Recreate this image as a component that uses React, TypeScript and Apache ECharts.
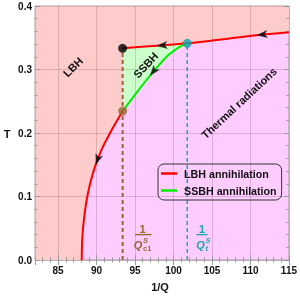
import React, { useEffect, useRef } from "react";
import * as echarts from "echarts";

// LBH annihilation curve, lower branch (1/Q, T)
const lbhLower: [number, number][] = [
  [88.07, 0], [88.1, 0.02], [88.19, 0.042], [88.4, 0.068], [88.71, 0.0945],
  [89.2, 0.122], [89.8, 0.147], [90.7, 0.175], [91.74, 0.1995], [92.5, 0.216], [93.39, 0.2346],
];
// LBH annihilation curve, upper branch
const lbhUpper: [number, number][] = [
  [93.39, 0.3334], [97.8, 0.3375], [101.79, 0.3412], [105, 0.3455], [108, 0.35], [110.8, 0.354], [115, 0.3586],
];
// SSBH annihilation curve
const ssbh: [number, number][] = [
  [93.39, 0.2346], [94.8, 0.257], [96.5, 0.2835], [99.1, 0.32], [100.84, 0.3359], [101.79, 0.3412],
];
const blackPoint: [number, number] = [93.39, 0.3334];
const brownPoint: [number, number] = [93.39, 0.2346];
const cyanPoint: [number, number] = [101.79, 0.3412];
// arrows: x, y, rotation (deg)
const arrows: [number, number, number][] = [
  [110.8, 0.354, 96], [97.8, 0.3375, 94], [96.94, 0.29, 142], [89.9, 0.15, 161],
];
const xMin = 82, xMax = 115, yMin = 0, yMax = 0.4;

const PINK = "#ffcccc", MAGENTA = "#ffccff", LGREEN = "#ccffcc";
const RED = "#ff0000", GREEN = "#00ee00", BROWN = "#996633", CYAN = "#1aa3b3";
const FONT = "Liberation Sans";

export default function App() {
  const ref = useRef<HTMLDivElement>(null);
  useEffect(() => {
    if (!ref.current) return;
    const chart = echarts.init(ref.current, null, { renderer: "svg" });
    const pinkRegion = [[xMin, 0], ...lbhLower, ...lbhUpper, [xMax, yMax], [xMin, yMax]];
    const greenRegion = [...lbhUpper.filter((p) => p[0] <= cyanPoint[0]), ...ssbh.slice().reverse()];
    const regions = [pinkRegion, greenRegion];
    const regionColors = [PINK, LGREEN];
    const tickCol = "#999";
    const gridLine = { show: true, lineStyle: { color: "rgba(90,40,60,0.2)", width: 1 } };
    const mkX = (pos: string, minor: boolean, labels: boolean) => ({
      type: "value", position: pos, min: xMin, max: xMax, z: 2,
      ...(minor ? { interval: 1 } : {}),
      axisLine: { show: false },
      axisTick: { show: true, inside: true, length: minor ? 2.5 : 5, lineStyle: { color: tickCol } },
      axisLabel: labels
        ? { show: true, showMinLabel: false, margin: 5, fontFamily: FONT, fontWeight: "bold", fontSize: 10, color: "#111" }
        : { show: false },
      splitLine: labels ? gridLine : { show: false },
    });
    const mkY = (pos: string, minor: boolean, labels: boolean) => ({
      type: "value", position: pos, min: yMin, max: yMax, interval: minor ? 0.02 : 0.1, z: 2,
      axisLine: { show: false },
      axisTick: { show: true, inside: true, length: minor ? 2.5 : 5, lineStyle: { color: tickCol } },
      axisLabel: labels
        ? { show: true, margin: 3, fontFamily: FONT, fontWeight: "bold", fontSize: 10, color: "#111", formatter: (v: number) => v.toFixed(1) }
        : { show: false },
      splitLine: labels ? gridLine : { show: false },
    });
    const lineSeries = (name: string, data: [number, number][], color: string, smooth: number) => ({
      type: "line", name, data, symbol: "none", z: 4, xAxisIndex: 0, yAxisIndex: 0,
      lineStyle: { color, width: 2 }, itemStyle: { color }, smooth,
    });
    const txt = (text: string, x: number, y: number, font: string, fill: string, rotDeg = 0, align = "center") => ({
      type: "text", x, y, z: 20, rotation: (rotDeg * Math.PI) / 180,
      style: { text, font, fill, align, verticalAlign: "middle" },
    });
    chart.setOption({
      animation: false,
      grid: { left: 35, right: 11, top: 6, bottom: 36, show: true, backgroundColor: MAGENTA, borderColor: "#a0a0a0", borderWidth: 1 },
      xAxis: [mkX("bottom", false, true), mkX("bottom", true, false), mkX("top", false, false), mkX("top", true, false)],
      yAxis: [mkY("left", false, true), mkY("left", true, false), mkY("right", false, false), mkY("right", true, false)],
      legend: {
        left: 158, top: 164, orient: "vertical", padding: [4, 5, 4, 3], itemGap: 6, itemWidth: 16, itemHeight: 2.5,
        icon: "rect",
        borderColor: "#333", borderWidth: 1, borderRadius: 6, selectedMode: false,
        textStyle: { fontFamily: FONT, fontWeight: "bold", fontSize: 10.7, color: "#111", padding: [0, 0, 0, 2] },
        data: ["LBH annihilation", "SSBH annihilation"],
      },
      series: [
        {
          type: "custom", z: 1, silent: true, xAxisIndex: 0, yAxisIndex: 0,
          data: [[0], [1]],
          renderItem: (params: any, api: any) => {
            const idx = params.dataIndex;
            const pts = regions[idx].map((p) => api.coord(p));
            return { type: "polygon", shape: { points: pts }, style: { fill: regionColors[idx] } };
          },
        },
        {
          type: "line", z: 3, symbol: "none", xAxisIndex: 0, yAxisIndex: 0,
          data: [[brownPoint[0], 0], blackPoint], lineStyle: { color: BROWN, width: 2, type: [4, 3] },
        },
        {
          type: "line", z: 3, symbol: "none", xAxisIndex: 0, yAxisIndex: 0,
          data: [[cyanPoint[0], 0], cyanPoint], lineStyle: { color: CYAN, width: 1.5, type: [4, 3] },
        },
        lineSeries("LBH annihilation", lbhLower, RED, 0.3),
        lineSeries("LBH annihilation", lbhUpper, RED, 0.3),
        lineSeries("SSBH annihilation", ssbh, GREEN, 0.2),
        {
          type: "scatter", z: 5, xAxisIndex: 0, yAxisIndex: 0, symbol: "arrow", symbolSize: [6, 11],
          itemStyle: { color: "#000" },
          data: arrows.map((a) => ({ value: [a[0], a[1]], symbolRotate: a[2] })),
        },
        {
          type: "scatter", z: 6, xAxisIndex: 0, yAxisIndex: 0, symbolSize: 9,
          data: [
            { value: blackPoint, itemStyle: { color: "#000" } },
            { value: brownPoint, itemStyle: { color: BROWN } },
            { value: cyanPoint, itemStyle: { color: "#13a0a6" } },
          ],
        },
      ],
      graphic: [
        txt("T", 7, 134, `bold 11px "${FONT}"`, "#111"),
        txt("1/Q", 160, 287, `bold 11px "${FONT}"`, "#111"),
        txt("LBH", 73, 67, `bold 11px "${FONT}"`, "#111", 45),
        txt("SSBH", 145.7, 65, `bold 11px "${FONT}"`, "#111", 47),
        txt("Thermal radiations", 239, 103, `bold 11px "${FONT}"`, "#111", 43),
        // brown fraction
        txt("1", 142.5, 228.5, `bold 11px "${FONT}"`, BROWN),
        { type: "rect", z: 20, shape: { x: 135, y: 234, width: 16.5, height: 1.3 }, style: { fill: BROWN } },
        txt("Q", 138, 245, `bold italic 11px "${FONT}"`, BROWN),
        txt("S", 143, 240.5, `bold italic 7.5px "${FONT}"`, BROWN, 0, "left"),
        txt("c1", 143, 248.5, `bold 7.5px "${FONT}"`, BROWN, 0, "left"),
        // cyan fraction
        txt("1", 202, 228.5, `bold 11px "${FONT}"`, CYAN),
        { type: "rect", z: 20, shape: { x: 196.5, y: 234, width: 11, height: 1.3 }, style: { fill: CYAN } },
        txt("Q", 200.5, 245, `bold italic 11px "${FONT}"`, CYAN),
        txt("S", 205.5, 240.5, `bold italic 7.5px "${FONT}"`, CYAN, 0, "left"),
        txt("t", 205.5, 248.5, `bold italic 7.5px "${FONT}"`, CYAN, 0, "left"),
      ],
    });
    return () => chart.dispose();
  }, []);
  return <div ref={ref} style={{ position: "fixed", left: 0, top: 0, width: 300, height: 296 }} />;
}
